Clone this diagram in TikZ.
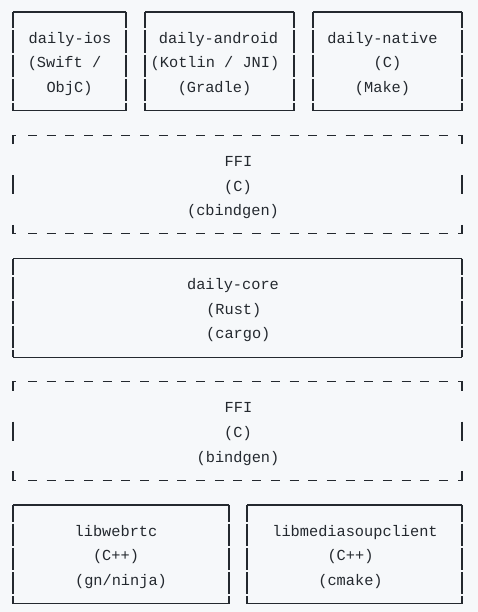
\documentclass[tikz,border=0pt]{standalone}
\usepackage{fontspec}
\setmonofont{Liberation Mono}
\definecolor{bg}{HTML}{F6F8FA}
\definecolor{ink}{HTML}{24292F}

% solid box: full top and bottom, sides broken per text line
\newcommand{\solidbox}[1]{%
  \draw[rule] (#1.north west) -- (#1.north east);
  \draw[rule] (#1.south west) -- (#1.south east);
  \draw[side] (#1.north west) -- (#1.south west);
  \draw[side] (#1.north east) -- (#1.south east);}

% dashed box: corner stubs, dashed top and bottom, one bar on each side
\newcommand{\ffibox}[1]{%
  \draw[dashrule] ([xshift=15pt]#1.north west) -- ([xshift=-14pt]#1.north east);
  \draw[dashrule] ([xshift=15pt]#1.south west) -- ([xshift=-14pt]#1.south east);
  \draw[rule] ([yshift=-9pt]#1.north west) -- (#1.north west) -- ++(3,0);
  \draw[rule] ([yshift=-9pt]#1.north east) -- (#1.north east) -- ++(-4,0);
  \draw[rule] ([yshift=9pt]#1.south west) -- (#1.south west) -- ++(3,0);
  \draw[rule] ([yshift=9pt]#1.south east) -- (#1.south east) -- ++(-4,0);
  \draw[rule] ([yshift=9.5pt]#1.west) -- ([yshift=-9.5pt]#1.west);
  \draw[rule] ([yshift=9.5pt]#1.east) -- ([yshift=-9.5pt]#1.east);}

\begin{document}
\begin{tikzpicture}[x=1pt,y=-1pt,
  box/.style={inner sep=0pt, outer sep=0pt, minimum height=98.6pt},
  rule/.style={draw=ink, line width=1.2pt},
  side/.style={rule, dash pattern=on 22.3pt off 2pt, dash phase=5.8pt},
  dashrule/.style={rule, dash pattern=on 9pt off 9.68pt},
  txt/.style={anchor=base, inner sep=0pt, text=ink, font=\ttfamily\fontsize{15.3}{15.3}\selectfont}]

\fill[bg] (0,0) rectangle (478,612);
\useasboundingbox (0,0) rectangle (478,612);

% the boxes
\node[box, minimum width=113pt] (ios) at (69.5,61.3) {};
\node[box, minimum width=149pt] (android) at (219.5,61.3) {};
\node[box, minimum width=149pt] (native) at (387.5,61.3) {};
\node[box, minimum width=449pt] (ffitop) at (237.5,184.55) {};
\node[box, minimum width=449pt] (core) at (237.5,307.8) {};
\node[box, minimum width=449pt] (ffibot) at (237.5,431.05) {};
\node[box, minimum width=216pt] (webrtc) at (121,554.3) {};
\node[box, minimum width=215pt] (soup) at (354.5,554.3) {};

\solidbox{ios}
\solidbox{android}
\solidbox{native}
\ffibox{ffitop}
\solidbox{core}
\ffibox{ffibot}
\solidbox{webrtc}
\solidbox{soup}

% labels
\node[txt] (iosA) at (70,43.15) {daily-ios};
\node[txt] (iosB) at (64.5,67.8) {(Swift /};
\node[txt] (iosC) at (69.5,92.45) {ObjC)};

\node[txt] (andA) at (218.5,43.15) {daily-android};
\node[txt] (andB) at (215,67.8) {(Kotlin / JNI)};
\node[txt] (andC) at (214.5,92.45) {(Gradle)};

\node[txt] (natA) at (382.5,43.15) {daily-native};
\node[txt] (natB) at (387.5,67.8) {(C)};
\node[txt] (natC) at (382.5,92.45) {(Make)};

\node[txt] (ftA) at (238.5,166.4) {FFI};
\node[txt] (ftB) at (238,191.05) {(C)};
\node[txt] (ftC) at (233,215.7) {(cbindgen)};

\node[txt] (coreA) at (233,289.65) {daily-core};
\node[txt] (coreB) at (233.8,314.3) {(Rust)};
\node[txt] (coreC) at (238.3,338.95) {(cargo)};

\node[txt] (fbA) at (238.5,412.9) {FFI};
\node[txt] (fbB) at (238,437.55) {(C)};
\node[txt] (fbC) at (238,462.2) {(bindgen)};

\node[txt] (rtcA) at (116,536.15) {libwebrtc};
\node[txt] (rtcB) at (116,560.8) {(C++)};
\node[txt] (rtcC) at (121,585.45) {(gn/ninja)};

\node[txt] (soupA) at (355,536.15) {libmediasoupclient};
\node[txt] (soupB) at (350.5,560.8) {(C++)};
\node[txt] (soupC) at (350.5,585.45) {(cmake)};

\end{tikzpicture}
\end{document}
